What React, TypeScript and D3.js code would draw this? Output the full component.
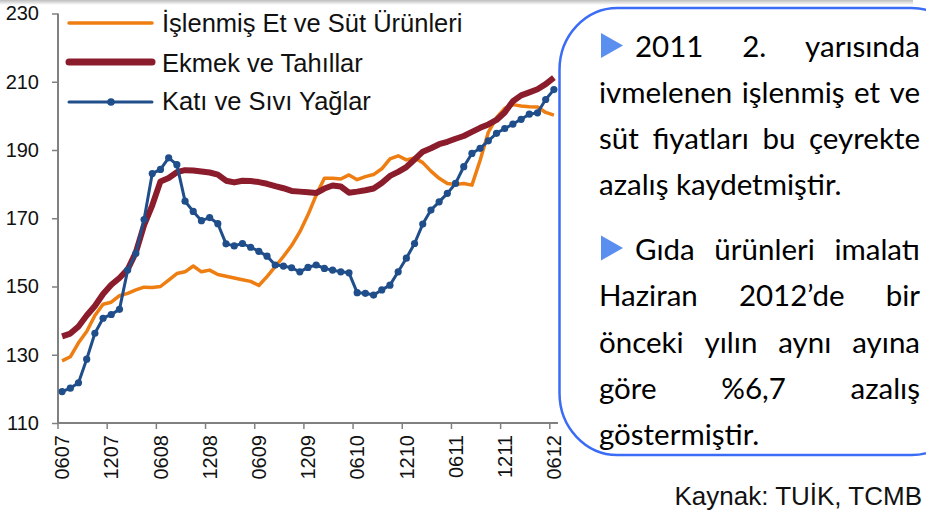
import React, { useEffect, useRef } from "react";
import * as d3 from "d3";

// ---- data (monthly, 2007-06 .. 2012-06) ----
const tickLabels = ["0607", "1207", "0608", "1208", "0609", "1209", "0610", "1210", "0611", "1211", "0612"];
const seriesNames = ["İşlenmiş Et ve Süt Ürünleri", "Ekmek ve Tahıllar", "Katı ve Sıvı Yağlar"];
const islenmis = [128.2, 129.4, 133.5, 136.8, 141.5, 144.8, 145.4, 147.3, 148.0, 149.0, 149.8, 149.7, 150.0, 151.9, 153.8, 154.3, 156.0, 154.3, 154.8, 153.5, 153.0, 152.5, 152.0, 151.5, 150.3, 152.9, 155.8, 158.8, 162.0, 166.0, 171.0, 176.8, 181.7, 181.7, 181.5, 182.7, 181.3, 182.2, 182.8, 184.5, 187.4, 188.3, 187.1, 187.7, 186.3, 183.8, 181.7, 180.2, 179.9, 180.2, 179.7, 187.0, 195.2, 199.5, 202.2, 203.3, 202.9, 202.7, 202.6, 201.0, 200.2];
const ekmek = [135.4, 136.2, 138.3, 141.5, 144.3, 147.8, 150.5, 152.5, 155.0, 160.0, 168.0, 173.8, 180.8, 181.8, 183.5, 184.1, 184.0, 183.7, 183.4, 182.8, 181.0, 180.5, 181.0, 180.9, 180.6, 180.1, 179.4, 178.8, 178.0, 177.8, 177.6, 177.4, 178.7, 179.6, 179.3, 177.5, 177.8, 178.2, 178.7, 180.3, 182.4, 183.6, 185.0, 187.2, 189.5, 190.5, 191.7, 192.4, 193.3, 194.1, 195.3, 196.5, 197.5, 198.8, 201.0, 204.3, 206.0, 206.9, 207.8, 209.3, 211.2];
const yaglar = [119.2, 120.2, 121.8, 128.7, 136.3, 140.7, 141.8, 143.3, 154.8, 159.7, 169.6, 183.1, 184.3, 187.7, 185.7, 175.0, 172.0, 169.3, 170.2, 168.4, 162.5, 161.9, 162.6, 161.5, 160.3, 158.9, 156.3, 156.0, 155.5, 154.3, 155.6, 156.3, 155.3, 154.8, 154.3, 154.0, 148.2, 148.0, 147.5, 149.0, 150.4, 154.3, 158.3, 162.6, 168.3, 172.4, 174.8, 177.3, 180.2, 185.1, 189.0, 190.5, 192.7, 194.9, 196.3, 197.6, 199.0, 200.5, 200.9, 204.8, 207.7];
const yTicks = [110, 130, 150, 170, 190, 210, 230];

const paragraphs = [
  { bullet: true, lines: ["2011 2. yarısında", "ivmelenen işlenmiş et ve", "süt fiyatları bu çeyrekte", "azalış kaydetmiştir."] },
  { bullet: true, lines: ["Gıda ürünleri imalatı", "Haziran 2012’de bir", "önceki yılın aynı ayına", "göre %6,7 azalış", "göstermiştir."] },
];
const sourceText = "Kaynak: TUİK, TCMB";

export default function App() {
  const ref = useRef<SVGSVGElement | null>(null);

  useEffect(() => {
    const svg = d3.select(ref.current);
    svg.selectAll("*").remove();

    const defs = svg.append("defs");
    const g = defs.append("linearGradient").attr("id", "topshade").attr("x1", 0).attr("x2", 0).attr("y1", 0).attr("y2", 1);
    g.append("stop").attr("offset", "0%").attr("stop-color", "#bdbdbd");
    g.append("stop").attr("offset", "100%").attr("stop-color", "#ffffff");

    svg.append("rect").attr("width", 926).attr("height", 513).attr("fill", "#fff");
    svg.append("rect").attr("width", 913).attr("height", 5).attr("fill", "url(#topshade)");

    const n = islenmis.length;
    const x = d3.scaleBand<number>().domain(d3.range(n)).range([58, 558]);
    const bw = x.bandwidth();
    const cx = (i: number) => (x(i) as number) + bw / 2;
    const y = d3.scaleLinear().domain([110, 230]).range([423, 13.5]);

    // axes
    const axisColor = "#808080";
    const yAxis = svg.append("g").attr("transform", "translate(58,0)")
      .call(d3.axisLeft(y).tickValues(yTicks).tickSize(6).tickPadding(13).tickFormat(d3.format("d")));
    yAxis.select(".domain").attr("stroke", axisColor).attr("stroke-width", 2).attr("d", `M0,${y(230)}V${y(110)}`);
    yAxis.selectAll(".tick line").attr("stroke", axisColor).attr("stroke-width", 1.5);
    yAxis.selectAll(".tick text").attr("font-family", "Liberation Sans, Arial, sans-serif").attr("font-size", 20).attr("fill", "#111");

    svg.append("line").attr("x1", 57).attr("x2", 558).attr("y1", y(110)).attr("y2", y(110))
      .attr("stroke", axisColor).attr("stroke-width", 2);
    tickLabels.forEach((lab, k) => {
      const i = k * 6;
      const tx = x(i) as number;
      svg.append("line").attr("x1", tx).attr("x2", tx).attr("y1", y(110)).attr("y2", y(110) + 6)
        .attr("stroke", axisColor).attr("stroke-width", 1.5);
      svg.append("text").attr("transform", `translate(${cx(i)},435) rotate(-90)`)
        .attr("text-anchor", "end").attr("dy", "0.36em")
        .attr("font-family", "Liberation Sans, Arial, sans-serif").attr("font-size", 20).attr("fill", "#111")
        .text(lab);
    });

    const line = d3.line<number>().x((_, i) => cx(i)).y((d) => y(d));
    const colors = ["#EE7D12", "#8B1C2C", "#1F4E8A"];

    svg.append("path").attr("d", line(islenmis)).attr("fill", "none").attr("stroke", colors[0]).attr("stroke-width", 3.5).attr("stroke-linejoin", "round");
    svg.append("path").attr("d", line(ekmek)).attr("fill", "none").attr("stroke", colors[1]).attr("stroke-width", 6).attr("stroke-linejoin", "round");
    svg.append("path").attr("d", line(yaglar)).attr("fill", "none").attr("stroke", colors[2]).attr("stroke-width", 3).attr("stroke-linejoin", "round");
    svg.append("g").selectAll("circle").data(yaglar).join("circle")
      .attr("cx", (_, i) => cx(i)).attr("cy", (d) => y(d)).attr("r", 3.6).attr("fill", colors[2]);

    // legend
    const legY = [23, 62, 102];
    const legBase = [32, 71.5, 110];
    const legW = [3.5, 7, 3];
    seriesNames.forEach((name, k) => {
      svg.append("line").attr("x1", 69).attr("x2", 152).attr("y1", legY[k]).attr("y2", legY[k])
        .attr("stroke", colors[k]).attr("stroke-width", legW[k]).attr("stroke-linecap", "round");
      if (k === 2) svg.append("circle").attr("cx", 111).attr("cy", legY[k]).attr("r", 3.8).attr("fill", colors[k]);
      svg.append("text").attr("x", 162).attr("y", legBase[k])
        .attr("font-family", "Liberation Sans, Arial, sans-serif").attr("font-size", 25.5).attr("fill", "#111")
        .text(name);
    });

    // panel
    svg.append("rect").attr("x", 559.5).attr("y", 8).attr("width", 410).attr("height", 447).attr("rx", 58).attr("ry", 62)
      .attr("fill", "#fff").attr("stroke", "#3B6CF5").attr("stroke-width", 2.5);

    const baselines = [[57, 103, 149, 194.5], [259.5, 306, 352.5, 398.5, 445]];
    const left = 599, right = 920, bulletTextLeft = 635;
    const font = "Lato, 'Open Sans', sans-serif";
    const fs = 29.5;
    paragraphs.forEach((p, pi) => {
      p.lines.forEach((ln, li) => {
        const by = baselines[pi][li];
        const isLast = li === p.lines.length - 1;
        let lx = left;
        if (p.bullet && li === 0) {
          const ty = by - 24;
          svg.append("path").attr("d", `M601,${ty}L601,${ty + 25}L623,${ty + 12.5}Z`).attr("fill", "#5B8FEF");
          lx = bulletTextLeft;
        }
        if (isLast) {
          svg.append("text").attr("x", lx).attr("y", by).attr("font-family", font).attr("font-size", fs).attr("fill", "#000").text(ln);
          return;
        }
        const words = ln.split(" ");
        const nodes = words.map((w) =>
          svg.append("text").attr("x", 0).attr("y", by).attr("font-family", font).attr("font-size", fs).attr("fill", "#000").text(w)
        );
        const widths = nodes.map((nd) => (nd.node() as SVGTextElement).getComputedTextLength());
        const total = d3.sum(widths);
        const gap = words.length > 1 ? (right - lx - total) / (words.length - 1) : 0;
        let pos = lx;
        nodes.forEach((nd, wi) => {
          nd.attr("x", pos);
          pos += widths[wi] + gap;
        });
      });
    });

    svg.append("text").attr("x", 922).attr("y", 505).attr("text-anchor", "end")
      .attr("font-family", "Liberation Sans, Arial, sans-serif").attr("font-size", 26).attr("fill", "#111")
      .text(sourceText);
  }, []);

  return (
    <svg ref={ref} width={926} height={513} style={{ position: "absolute", left: 0, top: 0, display: "block", background: "#fff" }} />
  );
}
